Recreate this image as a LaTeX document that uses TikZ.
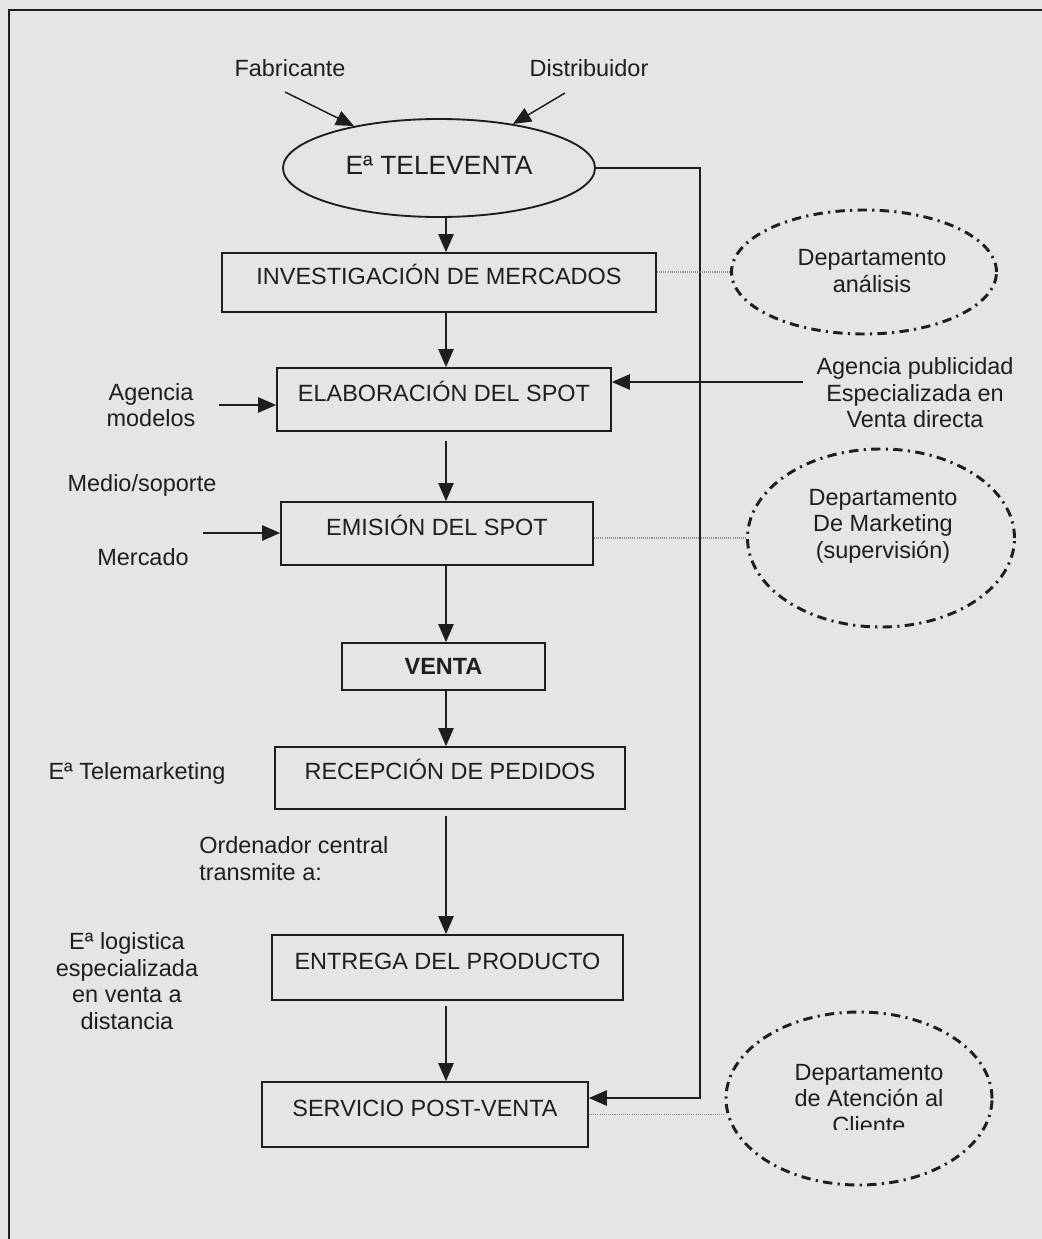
\documentclass[tikz,border=0pt]{standalone}
\usepackage{fontspec}
\setmainfont{Liberation Sans}
\usetikzlibrary{arrows.meta,shapes.geometric,calc}
\definecolor{paper}{RGB}{229,229,229}
\definecolor{ink}{RGB}{30,30,30}
\definecolor{dotgray}{RGB}{140,140,140}
\begin{document}
\begin{tikzpicture}[x=0.75pt,y=-0.75pt,
  every node/.style={text=ink},
  txt/.style={font=\fontsize{17.6pt}{19.9pt}\selectfont, align=center, inner sep=0pt},
  stage/.style={draw=ink, line width=1.3pt, rectangle, inner sep=0pt,
    font=\fontsize{17.6pt}{19.9pt}\selectfont, text height=12.6pt, text depth=10pt},
  arr/.style={draw=ink, line width=1.1pt, -{Triangle[length=13.5pt,width=11.5pt]}},
  dept/.style={draw=ink, ellipse, line width=2.2pt, inner sep=0pt,
    dash pattern=on 7pt off 4pt on 1.6pt off 4pt},
  dotline/.style={draw=dotgray, line width=0.8pt, dash pattern=on 0.8pt off 0.8pt}]

% sheet and frame
\useasboundingbox (0,0) rectangle (1042,1239);
\fill[paper] (0,0) rectangle (1042,1239);
\draw[ink, line width=1.5pt] (9,1239) -- (9,10) -- (1042,10);

% main company
\node[draw=ink, ellipse, line width=1.4pt, inner sep=0pt,
  minimum width=234pt, minimum height=73.5pt,
  font=\fontsize{19.8pt}{22pt}\selectfont, text height=14pt, text depth=4.5pt]
  (tv) at (439,168) {Eª TELEVENTA};

% process stages
\node[stage, minimum width=325.5pt, minimum height=44.25pt] (inv) at (439,282.5) {INVESTIGACIÓN DE MERCADOS};
\node[stage, minimum width=250.5pt, minimum height=47.25pt] (elab) at (444,399.5) {ELABORACIÓN DEL SPOT};
\node[stage, minimum width=234pt, minimum height=47.25pt] (emis) at (437,533.5) {EMISIÓN DEL SPOT};
\node[stage, minimum width=152.25pt, minimum height=35.25pt, font=\fontsize{17.6pt}{19.9pt}\selectfont\bfseries,
  text depth=0pt] (venta) at (443.5,666.5) {VENTA};
\node[stage, minimum width=262.5pt, minimum height=46.5pt] (recep) at (450,778) {RECEPCIÓN DE PEDIDOS};
\node[stage, minimum width=263.25pt, minimum height=48.75pt] (entr) at (447.5,967.5) {ENTREGA DEL PRODUCTO};
\node[stage, minimum width=244.5pt, minimum height=48.75pt] (serv) at (425,1114.5) {SERVICIO POST-VENTA};

% departments
\node[dept, minimum width=198.75pt, minimum height=93pt] (ana) at (864,272) {};
\node[txt] (anat) at (872,271) {Departamento\\análisis};
\node[dept, minimum width=200.25pt, minimum height=133.5pt] (mkt) at (881,538) {};
\node[txt] (mktt) at (883,526) {Departamento\\De Marketing\\(supervisión)};
\node[dept, minimum width=199.5pt, minimum height=129.75pt] (ate) at (859,1098.5) {};
\begin{scope}
  \clip (0,0) rectangle (1042,1129);
  \node[txt] (atet) at (869,1099) {Departamento\\de Atención al\\Cliente};
\end{scope}

% side labels
\node[txt] (fab) at (290,68) {Fabricante};
\node[txt] (dis) at (589,68) {Distribuidor};
\node[txt] (agm) at (151,405) {Agencia\\modelos};
\node[txt] (agp) at (915,393) {Agencia publicidad\\Especializada en\\Venta directa};
\node[txt] (med) at (142,485) {Medio/soporte};
\node[txt] (mer) at (143,557) {Mercado};
\node[txt] (tlm) at (137,773) {Eª Telemarketing};
\node[txt, anchor=west, align=left] (ord) at (199,858.5) {Ordenador central\\transmite a:};
\node[txt] (log) at (127,981) {Eª logistica\\especializada\\en venta a\\distancia};

% free ends of the incoming arrows
\coordinate (fab-o) at (285,92);
\coordinate (dis-o) at (565,93);
\coordinate (agm-o) at (219,405);
\coordinate (agp-o) at (803,382);
\coordinate (med-o) at (203,533);
\coordinate (ret) at (700,1098);
\coordinate (spine) at (446,0);

% inputs
\draw[arr] (fab-o) -- (tv);
\draw[arr] (dis-o) -- (tv);
\draw[arr] (agm-o) -- (agm-o -| elab.west);
\draw[arr] (agp-o) -- (agp-o -| elab.east);
\draw[arr] (med-o) -- (med-o -| emis.west);

% main flow
\draw[arr] (tv.south -| spine) -- (inv.north -| spine);
\draw[arr] (inv.south -| spine) -- (elab.north -| spine);
\draw[arr, shorten <=6.5pt] (elab.south -| spine) -- (emis.north -| spine);
\draw[arr] (emis.south -| spine) -- (venta.north -| spine);
\draw[arr] (venta.south -| spine) -- (recep.north -| spine);
\draw[arr, shorten <=4.5pt] (recep.south -| spine) -- (entr.north -| spine);
\draw[arr, shorten <=4pt] (entr.south -| spine) -- (serv.north -| spine);

% feedback from the company to after-sales
\draw[arr] (tv.east) -| (ret) -- (ret -| serv.east);

% links to departments
\draw[dotline] (inv.east |- ana.west) -- (ana.west);
\draw[dotline] (emis.east |- mkt.west) -- (mkt.west);
\draw[dotline] (serv.east) -- (serv.east -| ate.west);
\end{tikzpicture}
\end{document}
